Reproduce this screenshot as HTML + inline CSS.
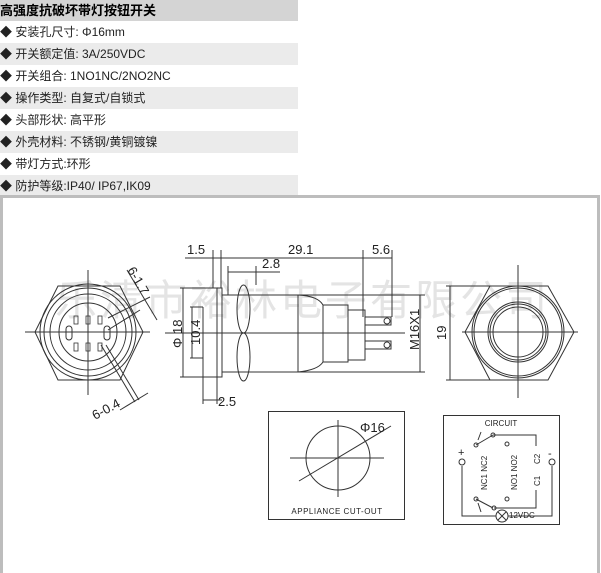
<!DOCTYPE html><html><head><meta charset="utf-8"><style>
body{margin:0;width:601px;height:573px;background:#fff;overflow:hidden;position:relative;font-family:"Liberation Sans","Noto Sans CJK SC",sans-serif}
.t{position:absolute;left:0;width:298px;height:22px;font-size:12px;line-height:22px;color:#222}
.g{background:#ebebeb}
</style></head><body>
<div class="t" style="top:0;height:21px;background:#d4d4d4;font-weight:bold;font-size:13px;line-height:21px;color:#000">高强度抗破坏带灯按钮开关</div>
<div class="t" style="top:21px">◆ 安装孔尺寸: Φ16mm</div>
<div class="t g" style="top:43px">◆ 开关额定值: 3A/250VDC</div>
<div class="t" style="top:65px">◆ 开关组合: 1NO1NC/2NO2NC</div>
<div class="t g" style="top:87px">◆ 操作类型: 自复式/自锁式</div>
<div class="t" style="top:109px">◆ 头部形状: 高平形</div>
<div class="t g" style="top:131px">◆ 外壳材料: 不锈钢/黄铜镀镍</div>
<div class="t" style="top:153px">◆ 带灯方式:环形</div>
<div class="t g" style="top:175px">◆ 防护等级:IP40/ IP67,IK09</div>
<svg width="601" height="573" style="position:absolute;left:0;top:0" font-family="Liberation Sans, sans-serif">
<rect x="1.5" y="196.5" width="597" height="380" fill="none" stroke="#bdbdbd" stroke-width="3"/>
<text x="55" y="315" font-size="42" fill="#e4e4e4" font-family="Liberation Sans, Noto Sans CJK SC, sans-serif" letter-spacing="3">乐清市裕林电子有限公司</text>
<g stroke="#333" fill="none" stroke-width="1">
<polygon points="35,332 58,286 120,286 143,332 120,380 58,380"/>
<circle cx="88" cy="332" r="48"/><circle cx="88" cy="332" r="44"/><circle cx="88" cy="332" r="38"/><circle cx="88" cy="332" r="29"/>
<line x1="25" y1="332" x2="150" y2="332"/><line x1="88" y1="270" x2="88" y2="395"/>
<rect x="66" y="326" width="6" height="14" rx="3"/><rect x="104" y="326" width="6" height="14" rx="3"/>
<g stroke-width="0.8"><rect x="74" y="316" width="4" height="8"/><rect x="86" y="316" width="4" height="8"/><rect x="98" y="316" width="4" height="8"/><rect x="74" y="343" width="4" height="8"/><rect x="86" y="343" width="4" height="8"/><rect x="98" y="343" width="4" height="8"/></g>
<line x1="108" y1="330" x2="140" y2="310"/><line x1="108" y1="318" x2="150" y2="297"/><line x1="127" y1="270" x2="157" y2="320"/>
<line x1="101" y1="345" x2="135" y2="402"/><line x1="106" y1="345" x2="139" y2="400"/><line x1="120" y1="410" x2="148" y2="393"/>
<line x1="165" y1="333" x2="405" y2="333"/>
<rect x="217" y="288" width="5" height="89"/>
<ellipse cx="243.5" cy="309" rx="6.5" ry="24"/><ellipse cx="243.5" cy="357" rx="6.5" ry="24"/>
<rect x="222" y="295" width="76" height="77"/>
<path d="M298,295 Q318,296 323,305 L323,362 Q318,370 298,372"/>
<rect x="323" y="305" width="25" height="57"/>
<rect x="348" y="310" width="17" height="50"/>
<rect x="365" y="317" width="26" height="8"/><rect x="365" y="341" width="26" height="8"/>
<circle cx="387" cy="321" r="3"/><circle cx="387" cy="345" r="3"/>
<line x1="213" y1="250" x2="213" y2="288"/><line x1="221" y1="250" x2="221" y2="288"/><line x1="363" y1="250" x2="363" y2="317"/><line x1="392" y1="250" x2="392" y2="317"/>
<line x1="185" y1="258" x2="392" y2="258"/><line x1="228" y1="272" x2="280" y2="272"/>
<line x1="228" y1="266" x2="228" y2="295"/><line x1="256" y1="266" x2="256" y2="285"/>
<line x1="298" y1="295" x2="425" y2="295"/><line x1="298" y1="372" x2="425" y2="372"/><line x1="420" y1="295" x2="420" y2="372"/>
<line x1="180" y1="288" x2="217" y2="288"/><line x1="180" y1="377" x2="217" y2="377"/><line x1="183" y1="288" x2="183" y2="377"/>
<line x1="190" y1="307" x2="203" y2="307"/><line x1="190" y1="358" x2="203" y2="358"/><line x1="192" y1="307" x2="192" y2="358"/>
<line x1="203" y1="307" x2="203" y2="404"/><line x1="217" y1="377" x2="217" y2="404"/><line x1="203" y1="400" x2="222" y2="400"/>
<polygon points="465,332 490,286 548,286 574,332 548,380 490,380"/>
<circle cx="518" cy="332" r="46"/><circle cx="518" cy="332" r="44"/><circle cx="518" cy="332" r="30"/><circle cx="518" cy="332" r="28"/><circle cx="518" cy="332" r="25"/>
<line x1="462" y1="332" x2="578" y2="332"/><line x1="518" y1="265" x2="518" y2="398"/>
<line x1="446" y1="286" x2="490" y2="286"/><line x1="446" y1="380" x2="490" y2="380"/><line x1="450" y1="286" x2="450" y2="380"/>
<rect x="268.5" y="411.5" width="136" height="108"/>
<circle cx="338" cy="458" r="32"/>
<line x1="290" y1="458" x2="384" y2="458"/><line x1="338" y1="420" x2="338" y2="497"/>
<line x1="299" y1="481" x2="391" y2="426"/>
<rect x="443.5" y="415.5" width="116" height="109"/>
<polyline points="462,466 462,516 496,516"/><polyline points="508,516 552,516 552,466"/>
<circle cx="502" cy="516" r="6"/><line x1="498" y1="512" x2="506" y2="520"/><line x1="506" y1="512" x2="498" y2="520"/>
<circle cx="462" cy="462" r="3"/><circle cx="552" cy="462" r="3"/>
<polyline points="493,435 536,435 536,446"/><polyline points="536,490 536,508 494,508"/>
<line x1="476" y1="445" x2="493" y2="435"/><line x1="476" y1="499" x2="493" y2="508"/>
<circle cx="476" cy="445" r="2"/><circle cx="493" cy="435" r="2"/><circle cx="476" cy="499" r="2"/><circle cx="494" cy="508" r="2"/><circle cx="507" cy="444" r="2"/><circle cx="507" cy="499" r="2"/>
<line x1="478" y1="440" x2="481" y2="432"/><line x1="478" y1="503" x2="481" y2="512"/>
</g>
<g font-size="13" fill="#222">
<text x="187" y="254">1.5</text><text x="288" y="254">29.1</text><text x="372" y="254">5.6</text><text x="262" y="268">2.8</text>
<text x="218" y="406">2.5</text>
<text transform="translate(182,348) rotate(-90)">Φ 18</text>
<text transform="translate(200,345) rotate(-90)">10.4</text>
<text transform="translate(419,350) rotate(-90)">M16X1</text>
<text transform="translate(446,340) rotate(-90)">19</text>
<text transform="translate(127,270) rotate(60)">6-1.7</text>
<text transform="translate(95,420) rotate(-28)">6-0.4</text>
<text x="360" y="432">Φ16</text>
</g>
<text x="337" y="514" font-size="8" text-anchor="middle" fill="#222" letter-spacing="0.5">APPLIANCE CUT-OUT</text>
<text x="501" y="426" font-size="8" text-anchor="middle" fill="#222">CIRCUIT</text>
<text x="509" y="518" font-size="8" fill="#222">12VDC</text>
<g font-size="8" fill="#222">
<text x="458" y="456" font-size="11">+</text><text x="548" y="457" font-size="11">-</text>
<text transform="translate(487,490) rotate(-90)">NC1 NC2</text>
<text transform="translate(517,490) rotate(-90)">NO1 NO2</text>
<text transform="translate(540,486) rotate(-90)">C1</text>
<text transform="translate(540,464) rotate(-90)">C2</text>
</g>
</svg>
</body></html>
